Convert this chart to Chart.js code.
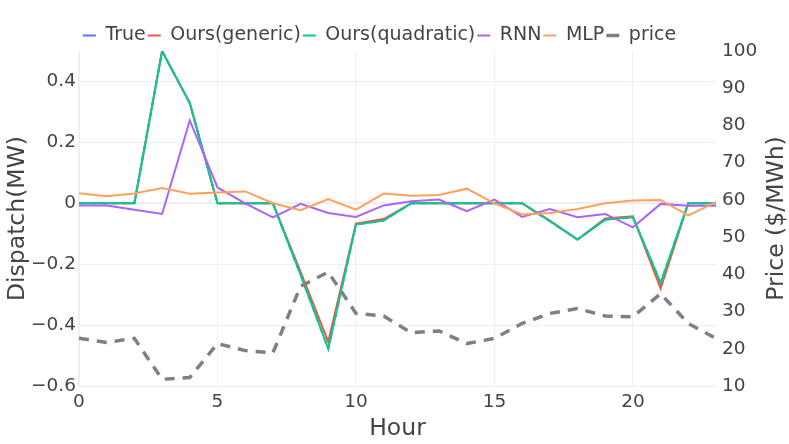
<!DOCTYPE html>
<html>
<head>
<meta charset="utf-8">
<script src="https://cdn.jsdelivr.net/npm/chart.js@4"></script>
<style>
  html, body { margin: 0; padding: 0; background: #fff; }
  #wrap { width: 789px; height: 444px; }
</style>
</head>
<body>
<div id="wrap"><canvas id="myChart"></canvas></div>
<script>
const hours = [0, 1, 2, 3, 4, 5, 6, 7, 8, 9, 10, 11, 12, 13, 14, 15, 16, 17, 18, 19, 20, 21, 22, 23];

const trueDispatch = [0, 0, 0, 0.5, 0.329, 0, 0, 0, -0.235, -0.478, -0.07, -0.057, 0, 0, 0, 0, 0, -0.059, -0.119, -0.054, -0.046, -0.261, 0, 0];
const oursGeneric = [0, 0, 0, 0.5, 0.329, 0, 0, 0, -0.225, -0.455, -0.067, -0.052, 0, 0, 0, 0, 0, -0.057, -0.119, -0.05, -0.043, -0.28, 0, 0];
const oursQuadratic = [0, 0, 0, 0.5, 0.329, 0, 0, 0, -0.235, -0.478, -0.07, -0.057, 0, 0, 0, 0, 0, -0.059, -0.119, -0.054, -0.046, -0.261, 0, 0];
const rnn = [-0.007, -0.007, -0.021, -0.035, 0.272, 0.052, 0, -0.046, -0.002, -0.032, -0.045, -0.007, 0.007, 0.012, -0.026, 0.012, -0.045, -0.019, -0.046, -0.035, -0.079, -0.002, -0.008, -0.008];
const mlp = [0.033, 0.023, 0.032, 0.05, 0.031, 0.035, 0.039, 0, -0.023, 0.014, -0.021, 0.032, 0.025, 0.027, 0.048, 0, -0.037, -0.032, -0.019, 0, 0.009, 0.011, -0.04, 0.004];
const price = [22.8, 21.7, 22.8, 11.8, 12.3, 21.4, 19.5, 18.9, 36.8, 40.6, 29.5, 28.8, 24.3, 24.8, 21.4, 22.8, 26.8, 29.5, 30.8, 28.8, 28.6, 34.8, 26.8, 22.8];

const xTicks = [0, 5, 10, 15, 20];
const dispatchTicks = [-0.6, -0.4, -0.2, 0, 0.2, 0.4];
const priceTicks = [10, 20, 30, 40, 50, 60, 70, 80, 90, 100];

const FONT = "'DejaVu Sans', sans-serif";
const TEXT = "#444";
const GRID = "#EBF0F8";

const pts = (ys) => ys.map((y, i) => ({ x: hours[i], y: y }));
const minus = (v) => String(v).replace("-", "\u2212");

function line(label, data, color, order, extra) {
  return Object.assign({
    label: label,
    data: pts(data),
    borderColor: color,
    backgroundColor: color,
    borderWidth: 2,
    pointRadius: 0,
    tension: 0,
    order: order,
    yAxisID: "y",
  }, extra || {});
}

// right-side axis title reads bottom-to-top, legend nudged down a bit
const extras = {
  id: "extras",
  afterLayout(chart) {
    if (chart.legend) {
      chart.legend.top += 4;
      chart.legend.bottom += 4;
    }
  },
  afterDraw(chart) {
    const ctx = chart.ctx;
    const area = chart.chartArea;
    ctx.save();
    ctx.translate(777, (area.top + area.bottom) / 2);
    ctx.rotate(-Math.PI / 2);
    ctx.font = "23.5px " + FONT;
    ctx.fillStyle = TEXT;
    ctx.textAlign = "center";
    ctx.textBaseline = "middle";
    ctx.fillText("Price ($/MWh)", 0, 0);
    ctx.restore();
  },
};

new Chart(document.getElementById("myChart"), {
  type: "line",
  data: {
    datasets: [
      line("True", trueDispatch, "#636EFA", 6, { borderDash: [6, 5] }),
      line("Ours(generic)", oursGeneric, "#EF553B", 5),
      line("Ours(quadratic)", oursQuadratic, "#00CC96", 4),
      line("RNN", rnn, "#AB63FA", 3),
      line("MLP", mlp, "#FFA15A", 2),
      line("price", price, "#808080", 1, { borderDash: [10, 8], borderWidth: 3.5, yAxisID: "y2" }),
    ],
  },
  options: {
    responsive: true,
    maintainAspectRatio: false,
    animation: false,
    layout: { padding: { top: 20, left: 0, right: 30, bottom: 0 } },
    plugins: {
      tooltip: { enabled: false },
      legend: {
        position: "top",
        align: "center",
        labels: {
          font: { family: FONT, size: 19 },
          color: TEXT,
          usePointStyle: true,
          pointStyle: "line",
          pointStyleWidth: 13,
          padding: 2,
          sort: (a, b) => a.datasetIndex - b.datasetIndex,
        },
      },
    },
    scales: {
      x: {
        type: "linear",
        min: 0,
        max: 23,
        afterBuildTicks: (s) => { s.ticks = xTicks.map((v) => ({ value: v })); },
        afterFit: (s) => { s.height = 58; },
        ticks: { font: { family: FONT, size: 18.5 }, color: TEXT, padding: 5, maxRotation: 0 },
        grid: { color: GRID, lineWidth: (c) => (c.tick && c.tick.value === 0 ? 2 : 1), drawTicks: false },
        border: { display: false },
        title: { display: true, text: "Hour", font: { family: FONT, size: 23.5 }, color: TEXT, padding: { top: 0, bottom: 1 } },
      },
      y: {
        position: "left",
        min: -0.6,
        max: 0.5,
        afterBuildTicks: (s) => { s.ticks = dispatchTicks.map((v) => ({ value: v })); },
        afterFit: (s) => { s.width = 79; },
        ticks: { font: { family: FONT, size: 18.5 }, color: TEXT, padding: 3, callback: (v) => minus(v) },
        grid: { color: GRID, lineWidth: (c) => (c.tick && c.tick.value === 0 ? 2 : 1), drawTicks: false },
        border: { display: false },
        title: { display: true, text: "Dispatch(MW)", font: { family: FONT, size: 23.5 }, color: TEXT, padding: { top: 4, bottom: 0 } },
      },
      y2: {
        position: "right",
        min: 10,
        max: 100,
        afterBuildTicks: (s) => { s.ticks = priceTicks.map((v) => ({ value: v })); },
        afterFit: (s) => { s.width = 43; },
        ticks: { font: { family: FONT, size: 18.5 }, color: TEXT, padding: 6 },
        grid: { display: false, drawTicks: false },
        border: { display: false },
      },
    },
  },
  plugins: [extras],
});
</script>
</body>
</html>
